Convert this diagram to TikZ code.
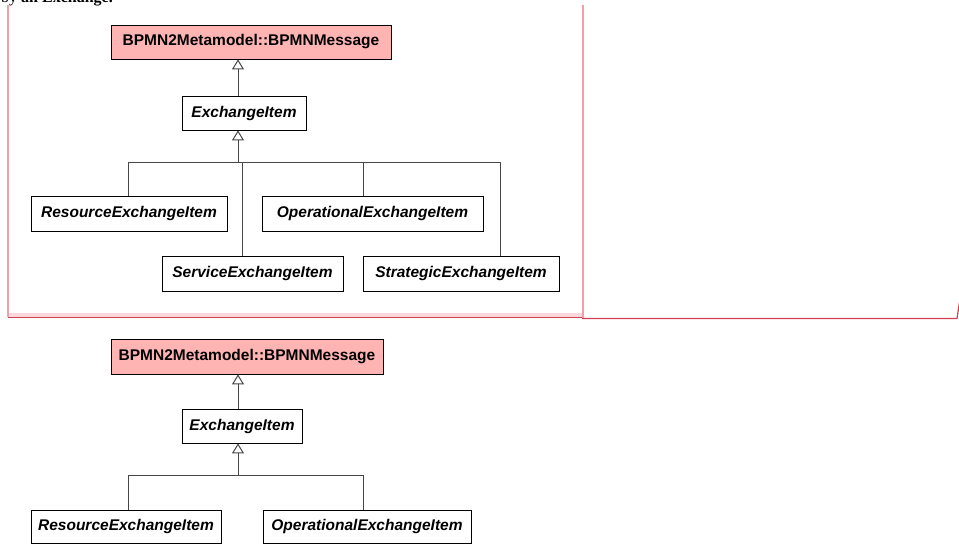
\documentclass[tikz,border=0pt]{standalone}
\usepackage{fontspec}
\setmainfont{Liberation Serif}
\setsansfont{Liberation Sans}
\usetikzlibrary{arrows.meta, positioning}
\definecolor{msgpink}{RGB}{255,180,180}
\definecolor{framered}{RGB}{208,64,80}
\definecolor{framepink}{RGB}{240,160,168}
\definecolor{bandpink}{RGB}{248,216,220}
\definecolor{linegray}{RGB}{70,70,70}

\begin{document}
\begin{tikzpicture}[
    x=1pt, y=-1pt,
    cls/.style ={draw, thick, inner sep=0pt, font=\sffamily\bfseries\itshape\fontsize{15.5}{18}\selectfont,
                 fill=white, minimum height=34},
    ext/.style ={cls, font=\sffamily\bfseries\fontsize{15.5}{18}\selectfont, fill=msgpink},
    link/.style={draw=linegray, line width=1pt},
    gen/.style ={link, -{Triangle[open, length=10pt, width=12pt]}},
]
\useasboundingbox (0,0) rectangle (959,551);
\clip (0,0) rectangle (959,551);
% clipped caption line at the top
\node[anchor=base west, inner sep=0pt, font=\fontsize{16}{18}\selectfont] (cap) at (1,3)
   {by \textbf{an Exchange.}};
% frame of the first table cell
\fill[bandpink] (8,313) rectangle (582,317);
\draw[framepink, line width=1.2pt] (8,5) -- (8,317);
\draw[framered, line width=1.2pt] (8,317.5) -- (582,317.5);
\draw[framepink, line width=2pt] (582.5,5) -- (582.5,318);
\draw[framered, line width=1.2pt] (582,318.5) -- (957,318.5) -- (959.5,302);

% first diagram
\node[ext, minimum width=280] (msgA) at (251,42) {BPMN2Metamodel::BPMNMessage};
\node[cls, minimum width=124] (itemA) at (244,113) {ExchangeItem};
\node[cls, minimum width=196, minimum height=35] (resA) at (129,213.5) {ResourceExchangeItem};
\node[cls, minimum width=221, minimum height=35] (opA)  at (372.5,213.5) {OperationalExchangeItem};
\node[cls, minimum width=181, minimum height=35] (svcA) at (252.5,273.5) {ServiceExchangeItem};
\node[cls, minimum width=196, minimum height=35] (strA) at (461,273.5) {StrategicExchangeItem};
\coordinate (hubA) at (238,162);
\draw[gen] ([xshift=-6]itemA.north) -- ([xshift=-6]itemA.north |- msgA.south);
\draw[gen] (hubA) -- (hubA |- itemA.south);
\draw[link] (hubA) -| ([xshift=-1]resA.north);
\draw[link] (hubA) -| ([xshift=-10.5]svcA.north);
\draw[link] (hubA) -| ([xshift=-9.5]opA.north);
\draw[link] (hubA) -| ([xshift=39]strA.north);

% second diagram
\node[ext, minimum width=272, minimum height=35] (msgB) at (247,356.5) {BPMN2Metamodel::BPMNMessage};
\node[cls, minimum width=120] (itemB) at (242,426) {ExchangeItem};
\node[cls, minimum width=190, minimum height=33] (resB) at (126,526.5) {ResourceExchangeItem};
\node[cls, minimum width=208, minimum height=33] (opB)  at (367,526.5) {OperationalExchangeItem};
\coordinate (hubB) at (238,475);
\draw[gen] ([xshift=-4]itemB.north) -- ([xshift=-4]itemB.north |- msgB.south);
\draw[gen] (hubB) -- (hubB |- itemB.south);
\draw[link] (hubB) -| ([xshift=2]resB.north);
\draw[link] (hubB) -| ([xshift=-4]opB.north);
\end{tikzpicture}
\end{document}
